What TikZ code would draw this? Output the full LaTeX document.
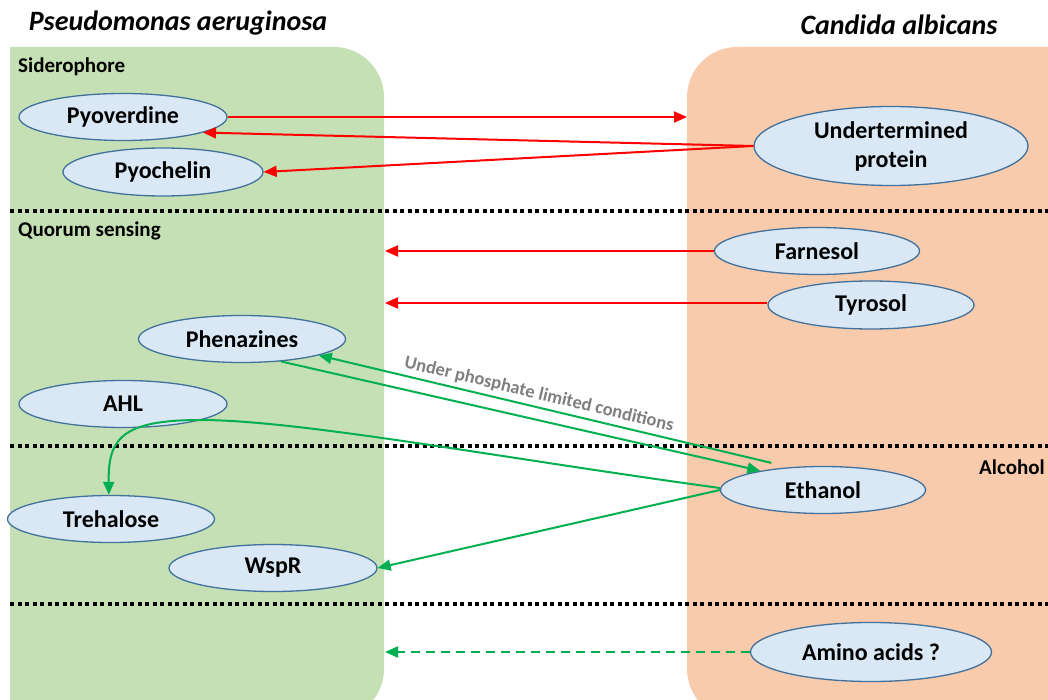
\documentclass[tikz,border=0pt]{standalone}
\usepackage{fontspec}
\setmainfont{Carlito}
\usetikzlibrary{shapes.geometric,arrows.meta}
\definecolor{gfill}{HTML}{C5E0B4}
\definecolor{ofill}{HTML}{F8CBAD}
\definecolor{efill}{HTML}{DAE8F5}
\definecolor{eline}{HTML}{41719C}
\definecolor{agreen}{HTML}{00B050}
\definecolor{lgray}{HTML}{7F7F7F}
\begin{document}
\begin{tikzpicture}[x=1pt,y=-1pt,
  ell/.style={ellipse,draw=eline,fill=efill,line width=1.3pt,inner sep=0pt,align=center,
    font=\bfseries\fontsize{24}{29}\selectfont},
  secl/.style={font=\bfseries\fontsize{21}{24}\selectfont,inner sep=0pt},
  ttl/.style={font=\bfseries\itshape\fontsize{28}{32}\selectfont,inner sep=0pt},
  redarr/.style={draw=red,line width=2pt,-{Triangle[length=13pt,width=11pt]}},
  grarr/.style={draw=agreen,line width=2pt,-{Triangle[length=13pt,width=11pt]}},
  dotline/.style={draw=black,line width=4pt,dash pattern=on 4pt off 3.5pt}]
\clip (0,0) rectangle (1048,700);
\useasboundingbox (0,0) rectangle (1048,700);
% boxes
\fill[gfill] (10,720) -- (10,47) -- (334,47) .. controls (361.6,47) and (384,69.4) .. (384,97)
  -- (384,669) .. controls (384,696.6) and (361.6,719) .. (334,719) -- cycle;
\fill[ofill] (1060,47) -- (737,47) .. controls (709.4,47) and (687,69.4) .. (687,97)
  -- (687,669) .. controls (687,696.6) and (709.4,719) .. (737,719) -- (1060,719) -- cycle;
% separators
\draw[dotline] (10,211) -- (1048,211);
\draw[dotline] (10,446) -- (1048,446);
\draw[dotline] (10,604) -- (1048,604);
% titles and section labels
\node[ttl] (t1) at (178,23) {Pseudomonas aeruginosa};
\node[ttl] (t2) at (899,25) {Candida albicans};
\node[secl,anchor=west] (s1) at (18,67) {Siderophore};
\node[secl,anchor=west] (s2) at (18,231) {Quorum sensing};
\node[secl,anchor=east] (s3) at (1045,467) {Alcohol};
% ellipses
\node[ell,minimum width=208pt,minimum height=47pt] (pyo) at (123,117) {Pyoverdine};
\node[ell,minimum width=200pt,minimum height=48pt] (pyc) at (163,172) {Pyochelin};
\node[ell,minimum width=274pt,minimum height=79pt] (und) at (891,146) {Undertermined\\protein};
\node[ell,minimum width=205pt,minimum height=47pt] (far) at (817,251) {Farnesol};
\node[ell,minimum width=206pt,minimum height=48pt] (tyr) at (871,305) {Tyrosol};
\node[ell,minimum width=207pt,minimum height=47pt] (phe) at (242,339) {Phenazines};
\node[ell,minimum width=208pt,minimum height=47pt] (ahl) at (123,404) {AHL};
\node[ell,minimum width=207pt,minimum height=47pt] (tre) at (111,519) {Trehalose};
\node[ell,minimum width=208pt,minimum height=47pt] (wsp) at (273,568) {WspR};
\node[ell,minimum width=205pt,minimum height=47pt] (eth) at (823,490) {Ethanol};
\node[ell,minimum width=241pt,minimum height=59pt] (ami) at (871,652) {Amino acids ?};
% free ends at the box edges
\coordinate (oE) at (687,117);
\coordinate (gE) at (385,0);
% red connectors
\draw[redarr] (pyo.east) -- (oE);
\draw[redarr] (und.west) -- (pyo.-11);
\draw[redarr] (und.west) -- (pyc.east);
\draw[redarr] (far.west) -- (far.west -| gE);
\draw[redarr] ([yshift=2pt]tyr.west) -- ([yshift=2pt]tyr.west -| gE);
% green connectors
\draw[grarr] ([shift={(-10pt,5pt)}]eth.152) -- node[pos=0.52,rotate=-13.4,anchor=south,inner sep=4pt,
   text=lgray,font=\bfseries\fontsize{18.5}{21}\selectfont] (lab) {Under phosphate limited conditions} (phe.-12);
\draw[grarr] (phe.-30) -- (eth.163);
\draw[grarr] ([yshift=2pt]eth.west) .. controls (500,458) and (300,420) .. (200,420)
   .. controls (120,420) and (108,440) .. (tre.95);
\draw[grarr] (eth.west) -- (wsp.east);
\draw[grarr,dash pattern=on 9pt off 6pt] (ami.west) -- (ami.west -| gE);
\end{tikzpicture}
\end{document}
